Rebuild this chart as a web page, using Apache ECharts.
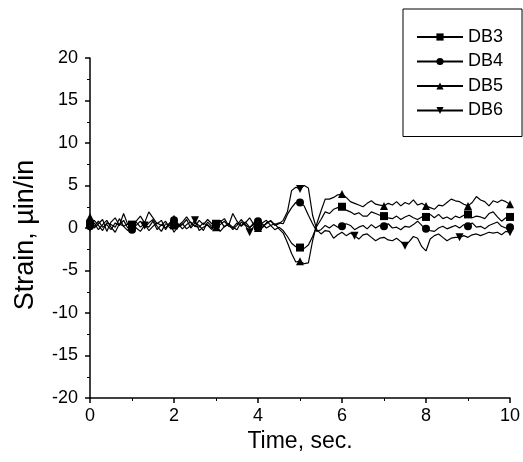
<!DOCTYPE html>
<html>
<head>
<meta charset="utf-8">
<script src="https://cdn.jsdelivr.net/npm/echarts@6/dist/echarts.min.js"></script>
<style>
html,body{margin:0;padding:0;background:#fff;}
#chart{width:523px;height:462px;}
</style>
</head>
<body>
<div id="chart"></div>
<script>
// Sample time step (s) and axis ticks
const timeStep = 0.1;
const xTicks = [0, 2, 4, 6, 8, 10];
const yTicks = [-20, -15, -10, -5, 0, 5, 10, 15, 20];
const seriesNames = ['DB3', 'DB4', 'DB5', 'DB6'];

// Strain values (µin/in) sampled every 0.1 s from t = 0 to 10 s
const db3 = [
  0.5,0.2,0.8,0.1,0.4,-0.2,0.6,0.3,0.9,0.0,
  0.4,0.7,0.1,0.5,-0.3,0.2,0.6,0.3,0.8,0.0,
  0.3,0.5,-0.1,0.4,0.7,0.2,0.1,0.6,0.3,-0.2,
  0.5,0.4,0.8,0.2,0.0,0.6,0.3,0.7,0.1,0.4,
  0.2,0.5,0.0,0.3,-0.2,0.1,
  -0.3,-1.0,-1.8,-2.2,-2.3,-2.4,-2.0,-1.0,0.2,1.0,1.9,1.7,2.2,2.4,
  2.5,2.1,1.9,1.6,1.8,1.4,1.4,1.9,1.7,1.5,
  1.4,1.2,1.1,1.4,1.0,1.3,1.5,1.2,1.0,1.3,
  1.3,1.6,1.2,1.6,1.1,1.3,1.0,1.4,1.2,1.5,
  1.6,1.2,1.4,1.3,1.1,1.7,1.9,1.3,0.8,1.2,
  1.3
];
const db4 = [
  0.2,0.9,0.3,-0.3,0.6,0.4,0.1,1.1,0.2,0.5,
  -0.2,0.3,0.8,0.0,0.6,1.0,0.2,-0.4,0.5,0.3,
  0.9,0.1,0.4,1.0,0.0,0.6,0.3,-0.3,0.7,0.2,
  0.4,0.9,0.1,0.5,-0.2,0.3,1.0,0.4,0.0,0.6,
  0.8,0.2,0.5,0.9,0.4,0.6,
  0.5,1.6,2.4,3.0,3.0,2.6,1.5,0.5,-0.4,-0.2,0.3,0.0,0.4,0.1,
  0.2,0.5,0.3,-0.2,0.1,0.3,-0.1,0.4,0.0,0.3,
  0.2,0.5,0.0,0.1,-0.2,0.2,0.1,0.4,0.8,0.3,
  -0.1,-0.3,-0.4,0.0,0.2,-0.1,0.1,0.3,0.0,0.4,
  0.2,0.6,0.1,0.2,-0.1,0.3,0.5,0.7,0.2,0.0,
  0.1
];
const db5 = [
  1.3,0.0,0.5,1.0,-0.4,0.7,1.2,0.3,1.7,0.4,
  0.1,0.8,1.4,0.6,1.9,1.2,0.5,0.9,-0.2,0.6,
  1.1,0.3,0.7,1.3,0.6,0.2,0.9,0.4,1.0,0.5,
  0.1,0.7,1.1,0.3,1.7,0.8,0.2,0.6,1.2,0.4,
  0.0,0.6,0.9,0.3,0.5,-0.1,
  -0.6,-1.7,-3.0,-4.0,-3.9,-4.2,-4.1,-1.5,0.5,2.0,3.4,3.4,3.6,3.9,
  4.0,3.6,3.1,2.9,2.7,2.5,2.9,3.2,2.8,2.7,
  2.6,2.9,2.7,3.1,2.6,3.0,2.8,3.3,2.7,2.9,
  2.6,2.4,2.2,2.7,2.6,3.0,3.4,3.2,3.1,2.8,
  2.6,3.0,3.7,3.3,3.1,2.6,3.2,3.0,3.3,3.1,
  2.8
];
const db6 = [
  0.0,0.6,-0.2,0.4,0.9,0.1,-0.5,0.5,0.2,-0.3,
  0.7,0.0,-0.4,0.3,0.1,0.8,-0.2,0.4,0.0,0.6,
  -0.5,0.2,0.5,-0.1,0.3,0.9,-0.3,0.1,0.4,0.0,
  0.6,-0.4,0.2,0.5,0.1,-0.2,0.7,0.3,-0.5,0.2,
  0.4,0.0,0.6,0.8,0.3,0.5,
  0.9,1.9,4.4,4.8,4.6,5.0,4.7,1.5,-0.2,-0.7,-0.3,-0.4,-1.2,-0.8,
  -0.5,-0.9,-0.6,-0.9,-1.3,-0.8,-0.7,-1.1,-1.5,-1.2,
  -1.1,-1.4,-1.5,-1.2,-1.6,-2.1,-1.6,-1.0,-1.2,-2.2,
  -2.7,-1.3,-0.9,-0.7,-1.1,-1.5,-1.2,-1.1,-1.1,-0.9,
  -1.1,-0.8,-0.7,-0.9,-0.7,-0.5,-0.6,-0.5,-0.8,-0.4,
  -0.5
];
// Marker spacing (in samples) for each series
const markerEvery = [10, 10, 10, 12.5];

const allValues = [db3, db4, db5, db6];
const symbols = ['rect', 'circle', 'triangle', 'path://M0,0L10,0L5,10Z'];
const FONT = '"Liberation Sans", Arial, Helvetica, sans-serif';

function pairs(vals) {
  return vals.map((v, i) => [+(i * timeStep).toFixed(2), v]);
}

const series = seriesNames.map((name, k) => {
  const every = markerEvery[k];
  return {
    name: name,
    type: 'line',
    data: pairs(allValues[k]),
    symbol: symbols[k],
    showAllSymbol: true,
    symbolSize: function (val, params) {
      const i = params.dataIndex;
      const show = i === 0 || Math.floor(i / every) !== Math.floor((i - 1) / every);
      return show ? 8 : 0;
    },
    lineStyle: { color: '#000', width: 1.2 },
    itemStyle: { color: '#000' },
    animation: false
  };
});

const chart = echarts.init(document.getElementById('chart'), null, { renderer: 'canvas' });
chart.setOption({
  backgroundColor: '#fff',
  animation: false,
  grid: { left: 90, right: 13, top: 58, bottom: 64 },
  legend: {
    orient: 'vertical',
    left: 403,
    top: 9,
    padding: [19, 19, 17, 13],
    itemGap: 6.5,
    itemWidth: 46,
    itemHeight: 9,
    borderColor: '#000',
    borderWidth: 1,
    borderRadius: 0,
    data: seriesNames,
    textStyle: { fontSize: 18, color: '#000', fontFamily: FONT }
  },
  xAxis: {
    type: 'value',
    min: xTicks[0],
    max: xTicks[xTicks.length - 1],
    interval: 2,
    name: 'Time, sec.',
    nameLocation: 'middle',
    nameGap: 27,
    nameTextStyle: { fontSize: 23, color: '#000', fontFamily: FONT },
    axisLine: { show: true, onZero: false, lineStyle: { color: '#000', width: 1.5 } },
    axisTick: { show: true, length: 5, lineStyle: { color: '#000', width: 1.5 } },
    minorTick: { show: true, splitNumber: 2, length: 3, lineStyle: { color: '#000', width: 1 } },
    axisLabel: { fontSize: 18, color: '#000', margin: 9, fontFamily: FONT },
    splitLine: { show: false }
  },
  yAxis: {
    type: 'value',
    min: yTicks[0],
    max: yTicks[yTicks.length - 1],
    interval: 5,
    name: 'Strain, \u00b5in/in',
    nameLocation: 'middle',
    nameGap: 51,
    nameTextStyle: { fontSize: 27, color: '#000', fontFamily: FONT, padding: [0, 14, 0, 0] },
    axisLine: { show: true, onZero: false, lineStyle: { color: '#000', width: 1.5 } },
    axisTick: { show: true, length: 5, lineStyle: { color: '#000', width: 1.5 } },
    minorTick: { show: true, splitNumber: 2, length: 3, lineStyle: { color: '#000', width: 1 } },
    axisLabel: { fontSize: 18, color: '#000', margin: 12, fontFamily: FONT },
    splitLine: { show: false }
  },
  series: series
});
</script>
</body>
</html>
